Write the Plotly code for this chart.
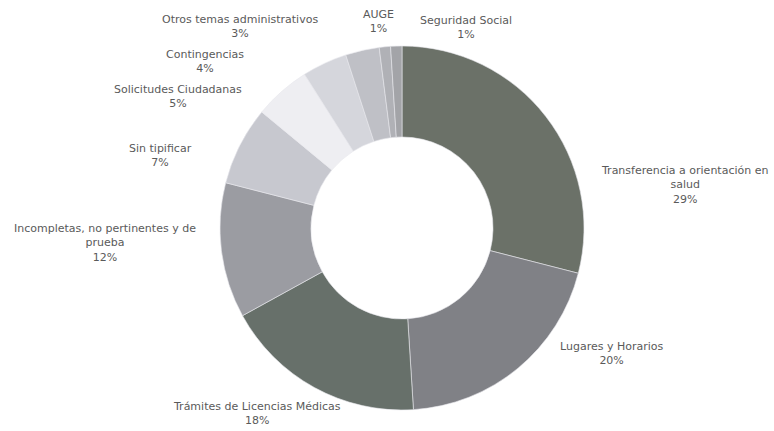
import plotly.graph_objects as go

categories = [
    "Transferencia a orientación en<br>salud",
    "Lugares y Horarios",
    "Trámites de Licencias Médicas",
    "Incompletas, no pertinentes y de<br>prueba",
    "Sin tipificar",
    "Solicitudes Ciudadanas",
    "Contingencias",
    "Otros temas administrativos",
    "AUGE",
    "Seguridad Social",
]
values = [29, 20, 18, 12, 7, 5, 4, 3, 1, 1]
colors = ["#6b7168", "#808186", "#67706a", "#9b9ca2", "#c7c8cf",
          "#eeeef2", "#d5d6dc", "#bfc0c6", "#b0b1b6", "#a3a4a8"]

# label block centres in pixels (x, y from top)
label_pos = [(684, 185), (611, 353), (257, 413), (105, 243), (160, 155),
             (178, 97), (205, 62), (240, 26), (378, 22), (466, 28)]

W, H = 774, 431
cx, cy, r = 402, 228, 182

fig = go.Figure(go.Pie(
    labels=categories,
    values=values,
    hole=0.5,
    sort=False,
    direction="clockwise",
    rotation=0,
    marker=dict(colors=colors, line=dict(color="#e8e8ec", width=0.6)),
    textinfo="none",
    hoverinfo="label+percent",
    domain=dict(x=[(cx - r) / W, (cx + r) / W],
                y=[(H - cy - r) / H, (H - cy + r) / H]),
    showlegend=False,
))

for cat, val, (px, py) in zip(categories, values, label_pos):
    fig.add_annotation(
        x=px / W, y=1 - py / H, xref="paper", yref="paper",
        text=f"{cat}<br>{val}%", showarrow=False,
        font=dict(family="DejaVu Sans", size=11, color="#5a5a5a"),
        align="center", xanchor="center", yanchor="middle",
    )

fig.update_layout(
    width=W, height=H,
    margin=dict(l=0, r=0, t=0, b=0),
    paper_bgcolor="white",
    plot_bgcolor="white",
)

fig.write_html("out.html", config={"displayModeBar": False},
               post_script="document.body.style.margin='0';document.body.style.padding='0';")
